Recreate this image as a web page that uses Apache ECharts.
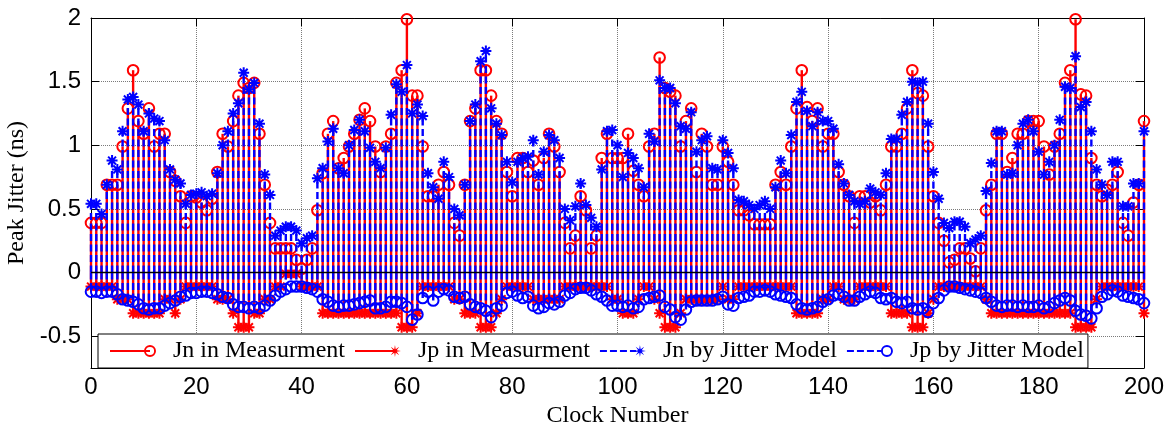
<!DOCTYPE html>
<html>
<head>
<meta charset="utf-8">
<script src="https://cdn.jsdelivr.net/npm/echarts@6/dist/echarts.min.js"></script>
<style>
  html, body { margin: 0; padding: 0; background: #fff; }
  #chart { width: 1176px; height: 428px; }
</style>
</head>
<body>
<div id="chart"></div>
<script>
// Clock numbers 0..200 along the x axis
const clockNumbers = Array.from({ length: 201 }, (_, i) => i);

// Jn in Measurment (ns)
const jnMeasured = [
  0.39, 0.39, 0.39, 0.69, 0.69, 0.69, 0.99, 1.29, 1.59, 1.19,
  1.09, 1.29, 0.99, 1.09, 1.09, 0.79, 0.72, 0.60, 0.39, 0.60,
  0.59, 0.55, 0.49, 0.58, 0.79, 1.09, 0.99, 1.19, 1.39, 1.49,
  1.45, 1.49, 1.09, 0.69, 0.39, 0.19, 0.19, 0.19, 0.19, 0.10,
  0.03, 0.10, 0.19, 0.49, 0.78, 1.09, 1.19, 0.82, 0.90, 0.99,
  1.09, 1.20, 1.29, 1.19, 0.99, 0.79, 0.99, 1.09, 1.49, 1.59,
  1.99, 1.39, 1.39, 0.99, 0.60, 0.60, 0.69, 0.79, 0.69, 0.39,
  0.29, 0.69, 1.19, 1.29, 1.59, 1.59, 1.39, 1.19, 1.09, 0.79,
  0.60, 0.90, 0.90, 0.79, 0.88, 0.69, 0.90, 1.09, 0.99, 0.79,
  0.39, 0.19, 0.29, 0.60, 0.49, 0.19, 0.29, 0.90, 1.09, 0.90,
  0.90, 0.90, 1.09, 0.80, 0.69, 0.60, 0.99, 1.09, 1.69, 1.45,
  1.42, 1.39, 0.99, 1.19, 1.29, 0.79, 1.09, 0.99, 0.69, 0.69,
  0.99, 0.87, 0.69, 0.49, 0.49, 0.45, 0.38, 0.38, 0.38, 0.38,
  0.69, 0.79, 0.69, 0.99, 1.29, 1.59, 1.30, 1.19, 1.29, 0.99,
  1.09, 1.09, 0.79, 0.69, 0.60, 0.39, 0.60, 0.60, 0.55, 0.60,
  0.49, 0.69, 0.99, 0.99, 1.09, 1.29, 1.59, 1.41, 1.39, 0.99,
  0.60, 0.39, 0.25, 0.08, 0.10, 0.19, 0.19, 0.11, 0.01, 0.19,
  0.49, 0.69, 1.09, 1.09, 0.79, 0.90, 1.09, 1.09, 1.19, 1.19,
  1.19, 0.99, 0.77, 0.99, 1.09, 1.49, 1.59, 1.99, 1.40, 1.39,
  0.90, 0.69, 0.60, 0.65, 0.69, 0.79, 0.39, 0.29, 0.55, 0.69,
  1.19
];

// Jp in Measurment (ns)
const jpMeasured = [
  -0.11, -0.11, -0.11, -0.11, -0.11, -0.21, -0.21, -0.21, -0.32, -0.32,
  -0.32, -0.32, -0.32, -0.32, -0.21, -0.21, -0.32, -0.21, -0.11, -0.11,
  -0.11, -0.11, -0.11, -0.11, -0.21, -0.21, -0.21, -0.32, -0.43, -0.43,
  -0.43, -0.32, -0.32, -0.21, -0.21, -0.11, -0.11, -0.01, -0.01, -0.01,
  -0.11, -0.11, -0.11, -0.11, -0.32, -0.32, -0.32, -0.32, -0.32, -0.32,
  -0.32, -0.32, -0.32, -0.32, -0.32, -0.32, -0.32, -0.32, -0.32, -0.43,
  -0.43, -0.43, -0.32, -0.11, -0.11, -0.11, -0.11, -0.11, -0.11, -0.21,
  -0.21, -0.32, -0.32, -0.32, -0.43, -0.43, -0.43, -0.32, -0.21, -0.11,
  -0.11, -0.11, -0.11, -0.11, -0.21, -0.21, -0.21, -0.21, -0.21, -0.21,
  -0.11, -0.11, -0.11, -0.11, -0.11, -0.11, -0.11, -0.11, -0.11, -0.21,
  -0.21, -0.32, -0.32, -0.32, -0.21, -0.11, -0.11, -0.21, -0.32, -0.43,
  -0.43, -0.43, -0.32, -0.21, -0.21, -0.21, -0.21, -0.21, -0.21, -0.21,
  -0.11, -0.21, -0.21, -0.11, -0.11, -0.11, -0.11, -0.11, -0.11, -0.11,
  -0.11, -0.11, -0.11, -0.11, -0.32, -0.32, -0.32, -0.32, -0.32, -0.21,
  -0.21, -0.11, -0.11, -0.21, -0.21, -0.21, -0.11, -0.11, -0.11, -0.11,
  -0.11, -0.11, -0.32, -0.32, -0.32, -0.32, -0.43, -0.43, -0.43, -0.32,
  -0.21, -0.11, -0.11, -0.11, -0.11, -0.11, -0.11, -0.11, -0.11, -0.11,
  -0.21, -0.32, -0.32, -0.32, -0.32, -0.32, -0.32, -0.32, -0.32, -0.32,
  -0.32, -0.32, -0.32, -0.32, -0.32, -0.32, -0.32, -0.43, -0.43, -0.43,
  -0.43, -0.21, -0.11, -0.11, -0.11, -0.11, -0.11, -0.11, -0.11, -0.11,
  -0.32
];

// Jn by Jitter Model (ns)
const jnModel = [
  0.54, 0.54, 0.46, 0.69, 0.88, 0.81, 1.11, 1.36, 1.38, 1.32,
  1.11, 1.25, 1.21, 1.19, 1.04, 0.81, 0.73, 0.70, 0.54, 0.61,
  0.62, 0.63, 0.60, 0.62, 0.78, 1.00, 1.11, 1.25, 1.33, 1.57,
  1.44, 1.49, 1.17, 0.77, 0.61, 0.29, 0.33, 0.36, 0.36, 0.33,
  0.23, 0.27, 0.29, 0.74, 0.82, 1.03, 1.13, 0.82, 0.78, 1.00,
  1.12, 1.20, 1.11, 0.98, 0.87, 0.82, 0.98, 1.24, 1.48, 1.42,
  1.63, 1.25, 1.32, 1.23, 0.78, 0.67, 0.58, 0.87, 0.75, 0.50,
  0.45, 0.69, 1.19, 1.32, 1.66, 1.74, 1.29, 1.17, 1.08, 0.87,
  0.71, 0.87, 0.90, 0.91, 1.04, 0.77, 0.95, 1.08, 1.04, 0.90,
  0.50, 0.41, 0.52, 0.70, 0.53, 0.43, 0.36, 0.81, 1.11, 1.12,
  1.00, 0.75, 0.94, 0.90, 0.82, 0.67, 1.09, 1.03, 1.51, 1.45,
  1.45, 1.33, 1.15, 1.13, 1.26, 0.95, 1.04, 1.07, 0.82, 0.81,
  1.04, 0.94, 0.82, 0.57, 0.56, 0.53, 0.50, 0.53, 0.56, 0.50,
  0.67, 0.88, 0.78, 1.08, 1.34, 1.42, 1.27, 1.15, 1.26, 1.19,
  1.19, 1.13, 0.85, 0.70, 0.61, 0.56, 0.54, 0.56, 0.66, 0.63,
  0.61, 0.78, 1.05, 1.05, 1.24, 1.34, 1.50, 1.49, 1.50, 1.17,
  0.79, 0.58, 0.39, 0.35, 0.40, 0.40, 0.36, 0.23, 0.26, 0.29,
  0.64, 0.86, 1.11, 1.11, 0.77, 0.78, 1.00, 1.17, 1.20, 1.11,
  0.95, 0.77, 0.87, 1.00, 1.20, 1.46, 1.45, 1.70, 1.30, 1.34,
  1.11, 0.81, 0.69, 0.61, 0.87, 0.87, 0.52, 0.52, 0.70, 0.70,
  1.11
];

// Jp by Jitter Model (ns)
const jpModel = [
  -0.15, -0.15, -0.16, -0.15, -0.15, -0.17, -0.21, -0.22, -0.23, -0.25,
  -0.28, -0.29, -0.28, -0.28, -0.26, -0.24, -0.22, -0.19, -0.18, -0.16,
  -0.16, -0.15, -0.15, -0.16, -0.17, -0.19, -0.20, -0.25, -0.27, -0.27,
  -0.28, -0.27, -0.28, -0.26, -0.22, -0.18, -0.15, -0.13, -0.11, -0.11,
  -0.11, -0.12, -0.13, -0.15, -0.21, -0.23, -0.26, -0.27, -0.26, -0.26,
  -0.25, -0.24, -0.23, -0.22, -0.28, -0.28, -0.27, -0.23, -0.23, -0.24,
  -0.27, -0.37, -0.33, -0.20, -0.15, -0.22, -0.15, -0.13, -0.14, -0.19,
  -0.20, -0.19, -0.25, -0.27, -0.28, -0.30, -0.35, -0.28, -0.26, -0.16,
  -0.15, -0.18, -0.20, -0.19, -0.26, -0.28, -0.27, -0.24, -0.25, -0.23,
  -0.18, -0.16, -0.13, -0.12, -0.12, -0.14, -0.17, -0.19, -0.22, -0.26,
  -0.26, -0.27, -0.26, -0.28, -0.27, -0.21, -0.20, -0.19, -0.18, -0.27,
  -0.29, -0.35, -0.37, -0.29, -0.23, -0.22, -0.22, -0.22, -0.22, -0.21,
  -0.19, -0.25, -0.26, -0.20, -0.19, -0.18, -0.15, -0.15, -0.14, -0.15,
  -0.17, -0.18, -0.19, -0.20, -0.25, -0.28, -0.29, -0.28, -0.27, -0.23,
  -0.21, -0.18, -0.17, -0.19, -0.22, -0.22, -0.19, -0.17, -0.15, -0.16,
  -0.20, -0.21, -0.20, -0.23, -0.24, -0.23, -0.28, -0.29, -0.28, -0.31,
  -0.24, -0.20, -0.14, -0.11, -0.11, -0.12, -0.13, -0.14, -0.15, -0.16,
  -0.20, -0.23, -0.26, -0.27, -0.26, -0.26, -0.27, -0.26, -0.27, -0.27,
  -0.26, -0.28, -0.27, -0.24, -0.22, -0.20, -0.22, -0.30, -0.33, -0.34,
  -0.36, -0.28, -0.19, -0.17, -0.14, -0.15, -0.18, -0.19, -0.20, -0.21,
  -0.24
];

const RED = '#ff0000';
const BLUE = '#0000ff';

// ---- marker drawing -------------------------------------------------------
function asteriskPath(cx, cy, r) {
  const d = r * 0.72;
  return 'M' + (cx - r) + ' ' + cy + 'L' + (cx + r) + ' ' + cy +
         'M' + cx + ' ' + (cy - r) + 'L' + cx + ' ' + (cy + r) +
         'M' + (cx - d) + ' ' + (cy - d) + 'L' + (cx + d) + ' ' + (cy + d) +
         'M' + (cx - d) + ' ' + (cy + d) + 'L' + (cx + d) + ' ' + (cy - d);
}

// filled 8-point star used for legend icons
function starPolygon(cx, cy, ro, ri) {
  let p = '';
  for (let i = 0; i < 16; i++) {
    const a = -Math.PI / 2 + i * Math.PI / 8;
    const r = i % 2 === 0 ? ro : ri;
    p += (i === 0 ? 'M' : 'L') + (cx + r * Math.cos(a)).toFixed(2) + ' ' + (cy + r * Math.sin(a)).toFixed(2);
  }
  return p + 'Z';
}

function ringPath(cx, cy, ro, ri) {
  return 'M' + (cx - ro) + ' ' + cy + 'A' + ro + ' ' + ro + ' 0 1 1 ' + (cx + ro) + ' ' + cy +
         'A' + ro + ' ' + ro + ' 0 1 1 ' + (cx - ro) + ' ' + cy + 'Z' +
         'M' + (cx - ri) + ' ' + cy + 'A' + ri + ' ' + ri + ' 0 1 0 ' + (cx + ri) + ' ' + cy +
         'A' + ri + ' ' + ri + ' 0 1 0 ' + (cx - ri) + ' ' + cy + 'Z';
}

// legend icons: 46 x 12 box, line then marker at the right end
const solidLine = 'M0 5L40 5L40 7L0 7Z';
const dashedLine = 'M0 5L7 5L7 7L0 7Z M10 5L17 5L17 7L10 7Z M20 5L27 5L27 7L20 7Z M30 5L36 5L36 7L30 7Z';
const iconJnMeas = 'path://' + solidLine + ringPath(40, 6, 6, 4.1);
const iconJpMeas = 'path://' + solidLine + starPolygon(40, 6, 6, 1.9);
const iconJnModel = 'path://' + dashedLine + starPolygon(40, 6, 6, 1.9);
const iconJpModel = 'path://' + dashedLine + ringPath(40, 6, 6, 4.1);

// ---- stem series ------------------------------------------------------------
function stemSeries(name, values, color, dashed, marker) {
  return {
    name: name,
    type: 'custom',
    coordinateSystem: 'cartesian2d',
    xAxisIndex: 0,
    yAxisIndex: 0,
    silent: true,
    clip: false,
    itemStyle: { color: color },
    data: values.map((v, i) => [clockNumbers[i], v]),
    renderItem: function (params, api) {
      const x = api.value(0);
      const v = api.value(1);
      const base = api.coord([x, 0]);
      const tip = api.coord([x, v]);
      const children = [{
        type: 'line',
        shape: { x1: base[0], y1: base[1], x2: tip[0], y2: tip[1] },
        style: { stroke: color, lineWidth: 2.4, lineDash: dashed ? [7, 3.5] : null }
      }];
      if (marker === 'circle') {
        children.push({
          type: 'circle',
          shape: { cx: tip[0], cy: tip[1], r: 5.3 },
          style: { fill: 'none', stroke: color, lineWidth: 2 }
        });
      } else {
        children.push({
          type: 'path',
          shape: { pathData: asteriskPath(tip[0], tip[1], 5.5) },
          style: { fill: 'none', stroke: color, lineWidth: 2 }
        });
      }
      return { type: 'group', children: children };
    }
  };
}

const labelFont = { color: '#000', fontFamily: 'Liberation Sans', fontSize: 24 };
const titleFont = { color: '#000', fontFamily: 'Liberation Serif', fontSize: 24 };
const frameLine = { show: true, onZero: false, lineStyle: { color: '#000', width: 1 } };
const innerTick = { show: true, inside: true, length: 8, lineStyle: { color: '#000', width: 1 } };
const gridDots = { show: true, lineStyle: { color: '#7a7a7a', type: 'dotted', width: 1 } };

const baselineSeries = stemSeries('Jp by Jitter Model', jpModel, BLUE, true, 'circle');
baselineSeries.markLine = {
  silent: true,
  symbol: 'none',
  animation: false,
  label: { show: false },
  lineStyle: { color: '#000', type: 'solid', width: 1.3 },
  data: [{ yAxis: 0 }]
};

const chart = echarts.init(document.getElementById('chart'), null, { renderer: 'canvas' });
chart.setOption({
  animation: false,
  backgroundColor: '#fff',
  grid: { left: 91, right: 32, top: 18, bottom: 60, containLabel: false, outerBoundsMode: 'none' },
  xAxis: [
    {
      type: 'value', min: 0, max: 200, interval: 20, position: 'bottom',
      axisLine: frameLine, axisTick: innerTick,
      axisLabel: Object.assign({ margin: 7 }, labelFont),
      splitLine: gridDots,
      name: 'Clock Number', nameLocation: 'middle', nameGap: 33, nameTextStyle: titleFont
    },
    {
      type: 'value', min: 0, max: 200, interval: 20, position: 'top',
      axisLine: frameLine, axisTick: innerTick,
      axisLabel: { show: false }, splitLine: { show: false }
    }
  ],
  yAxis: [
    {
      type: 'value', min: -0.75, max: 2, splitNumber: 5, position: 'left',
      axisLine: frameLine, axisTick: innerTick,
      axisLabel: Object.assign({ margin: 10, showMinLabel: false }, labelFont),
      splitLine: gridDots,
      name: 'Peak Jitter (ns)', nameLocation: 'middle', nameGap: 55, nameRotate: 90,
      nameTextStyle: titleFont
    },
    {
      type: 'value', min: -0.75, max: 2, splitNumber: 5, position: 'right',
      axisLine: frameLine, axisTick: innerTick,
      axisLabel: { show: false }, splitLine: { show: false }
    }
  ],
  legend: {
    left: 98, top: 334,
    orient: 'horizontal',
    selectedMode: false,
    padding: [5, 4, 5, 12],
    itemWidth: 46, itemHeight: 12, itemGap: 10,
    borderColor: '#000', borderWidth: 1, backgroundColor: '#fff',
    textStyle: { color: '#000', fontFamily: 'Liberation Serif', fontSize: 24, padding: [0, 0, 0, 12] },
    data: [
      { name: 'Jn in Measurment', icon: iconJnMeas, itemStyle: { color: RED } },
      { name: 'Jp in Measurment', icon: iconJpMeas, itemStyle: { color: RED } },
      { name: 'Jn by Jitter Model', icon: iconJnModel, itemStyle: { color: BLUE } },
      { name: 'Jp by Jitter Model', icon: iconJpModel, itemStyle: { color: BLUE } }
    ]
  },
  series: [
    stemSeries('Jn in Measurment', jnMeasured, RED, false, 'circle'),
    stemSeries('Jp in Measurment', jpMeasured, RED, false, 'asterisk'),
    stemSeries('Jn by Jitter Model', jnModel, BLUE, true, 'asterisk'),
    baselineSeries
  ]
});
</script>
</body>
</html>
